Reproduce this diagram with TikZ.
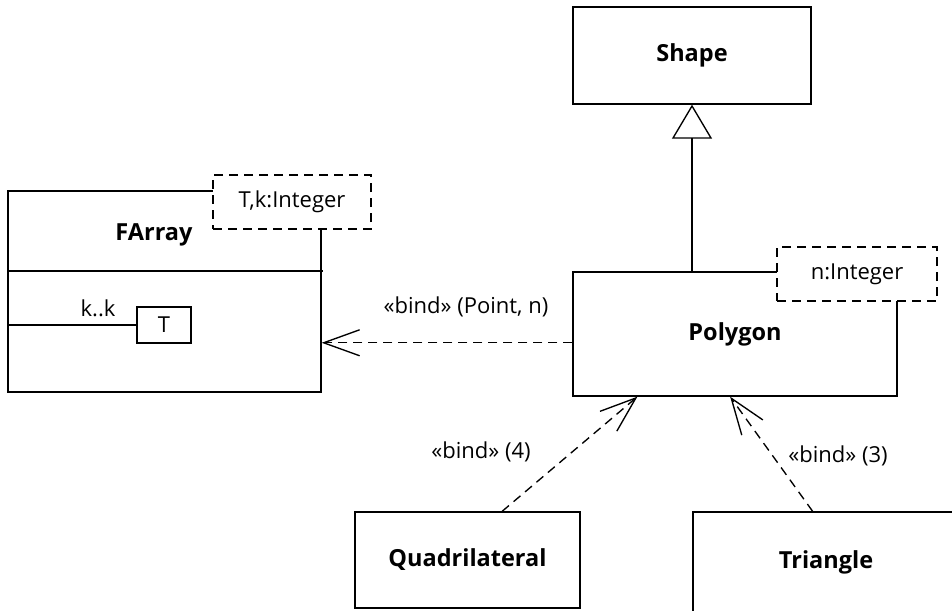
\documentclass[tikz,border=0pt]{standalone}
\usepackage{fontspec}
\setmainfont{Open Sans}
\usetikzlibrary{arrows.meta,calc}

\begin{document}
\begin{tikzpicture}[x=1pt, y=-1pt, line width=1.35pt,
	box/.style={draw, rectangle, inner sep=0pt, font=\fontsize{23.5}{28}\selectfont\bfseries},
	tmpl/.style={draw, dash pattern=on 9pt off 6pt, fill=white, inner sep=0pt, minimum width=#1, minimum height=54pt, font=\fontsize{22}{26}\selectfont},
	lbl/.style={font=\fontsize{22}{26}\selectfont},
	bind/.style={dash pattern=on 9pt off 6pt, -{Straight Barb[length=36pt, width=26pt]}}]
	\useasboundingbox (0,0) rectangle (952,610);
	\clip (0,0) rectangle (952,610);
	\node[box, minimum width=238pt, minimum height=97pt] (shape) at (692,55.5) {Shape};
	\node[box, minimum width=324pt, minimum height=124pt] (poly) at (735,334) {Polygon};
	\node[box, minimum width=313pt, minimum height=201pt] (farray) at (164.5,291.5) {};
	\node[box, minimum width=225pt, minimum height=96pt] (quad) at (467.5,560) {Quadrilateral};
	\node[box, minimum width=266pt, minimum height=100pt] (tri) at (826,562) {Triangle};
	\node[box, draw=none] (farrayname) at (154,235) {FArray};
	\draw (farray.west |- 0,271) -- (323,271);
	\node[box, lbl, minimum width=54pt, minimum height=36pt] (tbox) at (164,325) {T};
	\draw (farray.west |- tbox.west) -- (tbox.west);
	\node[lbl] (mult) at (98,308) {k..k};
	\node[tmpl=158pt] (farrayparam) at (292,202) {T,k:Integer};
	\node[tmpl=160pt] (polyparam) at (857,274) {n:Integer};
	\draw[-{Triangle[open, length=34pt, width=40pt]}] (shape.south |- poly.north) -- (shape.south);
	\coordinate (pw) at ($(poly.north west)!0.57!(poly.south west)$);
	\draw[bind] (pw) -- (pw -| farray.east);
	\node[lbl] (bindpt) at (466,307) {«bind» (Point, n)};
	\draw[bind] ($(quad.north west)!0.653!(quad.north east)$) -- ($(poly.south west)!0.2!(poly.south east)$);
	\node[lbl] (bindquad) at (481,452) {«bind» (4)};
	\draw[bind] ($(tri.north west)!0.45!(tri.north east)$) -- ($(poly.south west)!0.485!(poly.south east)$);
	\node[lbl] (bindtri) at (838,456) {«bind» (3)};
\end{tikzpicture}
\end{document}
